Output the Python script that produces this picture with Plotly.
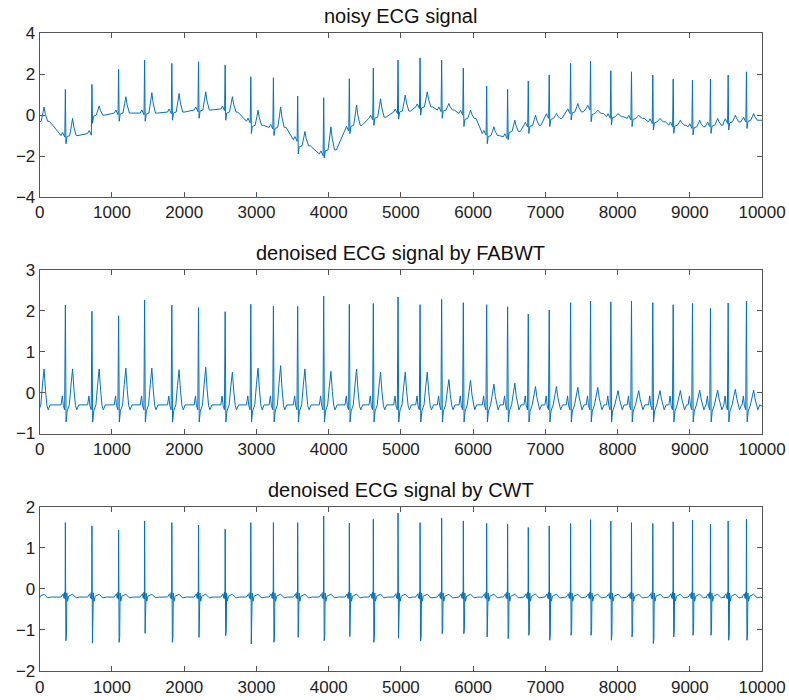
import plotly.graph_objects as go

# R-peak sample positions (first one is the off-screen beat whose T wave shows at the start)
beats = [-40, 355, 723, 1092, 1452, 1829, 2198, 2567, 2922, 3235, 3571, 3931, 4286, 4618, 4960,
         5265, 5564, 5864, 6187, 6477, 6763, 7053, 7349, 7625, 7906, 8192, 8487, 8769, 9036,
         9285, 9530, 9783]

# noisy ECG: R peak, baseline before / after the beat, T-wave peak (absolute values)
noisy_r = [1.0, 1.26, 1.5, 2.24, 2.69, 2.53, 2.61, 2.45, 1.88, 1.83, 0.93, 0.85, 1.78, 2.3, 2.69,
           2.8, 2.69, 2.3, 1.42, 1.26, 1.67, 1.96, 2.53, 2.64, 2.17, 2.12, 1.96, 1.76, 1.71,
           1.76, 1.96, 2.12]
noisy_pre = [-0.3, -1.0, -0.9, 0.1, 0.1, 0.15, 0.25, 0.3, -0.3, -0.6, -1.2, -1.9, -0.7, -0.15, 0.15,
             0.4, 0.25, 0.08, -0.9, -1.06, -0.5, -0.08, 0.16, 0.33, -0.08, -0.16, -0.33, -0.49,
             -0.57, -0.49, -0.33, -0.25]
noisy_post = [-0.3, -1.0, 0.0, 0.1, 0.1, 0.15, 0.25, 0.15, -0.5, -0.6, -1.5, -1.7, -0.5, -0.1, 0.2,
              0.4, 0.25, -0.16, -1.0, -0.8, -0.5, -0.16, 0.16, 0.08, -0.08, -0.16, -0.33, -0.49,
              -0.57, -0.49, -0.33, -0.25]
noisy_t = [0.4, -0.16, 0.45, 0.9, 1.1, 1.06, 1.14, 0.9, 0.24, 0.4, -0.8, -0.57, 0.49, 0.8, 0.98,
           1.14, 0.57, 0.25, -0.57, -0.25, 0.0, 0.08, 0.57, 0.25, 0.08, 0.0, -0.16, -0.25, -0.25,
           -0.16, 0.0, 0.08]
noisy_end = -0.25

# FABWT-denoised: R peak and T peak
fabwt_r = [2.0, 2.14, 1.99, 1.88, 2.26, 2.14, 2.08, 1.98, 2.16, 2.11, 2.11, 2.36, 2.16, 2.18, 2.34,
           2.15, 2.28, 2.2, 2.15, 2.1, 1.92, 2.02, 2.2, 2.24, 2.22, 2.24, 2.2, 2.15, 2.18, 2.06,
           2.19, 2.24]
fabwt_t = [0.58, 0.58, 0.58, 0.6, 0.6, 0.56, 0.62, 0.5, 0.6, 0.66, 0.58, 0.52, 0.58, 0.5, 0.5,
           0.5, 0.32, 0.3, 0.21, 0.23, 0.15, 0.15, 0.13, 0.13, 0.05, 0.05, 0.05, 0.05, 0.06,
           0.06, 0.08, 0.06]
fabwt_base = -0.3
fabwt_end = -0.33

# CWT-denoised: R peak and S trough
cwt_r = [1.6, 1.61, 1.53, 1.43, 1.65, 1.61, 1.55, 1.45, 1.61, 1.61, 1.61, 1.77, 1.6, 1.69, 1.84,
         1.61, 1.72, 1.65, 1.59, 1.57, 1.49, 1.53, 1.59, 1.68, 1.65, 1.61, 1.59, 1.63, 1.67,
         1.57, 1.65, 1.69]
cwt_s = [-1.2, -1.26, -1.32, -1.3, -1.08, -1.3, -1.18, -1.14, -1.34, -1.3, -1.18, -1.26, -1.16,
         -1.3, -1.2, -1.27, -1.09, -1.09, -1.17, -1.21, -1.13, -1.25, -1.13, -1.13, -1.25, -1.17,
         -1.33, -1.17, -1.13, -1.13, -1.25, -1.25]
cwt_base = -0.2
cwt_end = -0.22

titles = ["noisy ECG signal", "denoised ECG signal by FABWT", "denoised ECG signal by CWT"]
x_ticks = [0, 1000, 2000, 3000, 4000, 5000, 6000, 7000, 8000, 9000, 10000]
x_ticklabels = ["0", "1000", "2000", "3000", "4000", "5000", "6000", "7000", "8000", "9000", "10000"]
x_max = 10000


def assemble(shapes, end_val):
    xs, ys = [], []
    for b, pts in zip(beats, shapes):
        for off, v in pts:
            xs.append(b + off)
            ys.append(v)
    xs.append(x_max)
    ys.append(end_val)
    return xs, ys


noisy_shapes = []
for r, a, p, t in zip(noisy_r, noisy_pre, noisy_post, noisy_t):
    d = t - p
    noisy_shapes.append([(-60, a), (-38, a + 0.15), (-22, a), (-8, a - 0.08), (0, r),
                         (8, p - 0.4), (22, p - 0.05), (60, p), (85, p + 0.6 * d), (100, t),
                         (118, p + 0.5 * d), (150, p), (175, p)])

fab_shapes = []
for r, t in zip(fabwt_r, fabwt_t):
    c = fabwt_base
    d = t - c
    fab_shapes.append([(-60, c), (-42, c + 0.22), (-28, c - 0.02), (-10, c - 0.12), (0, r),
                       (10, c - 0.42), (25, c - 0.15), (55, c), (78, c + 0.55 * d), (100, t),
                       (120, c + 0.4 * d), (140, c - 0.02), (158, c - 0.12), (185, c)])

cwt_shapes = []
for r, s in zip(cwt_r, cwt_s):
    c = cwt_base
    cwt_shapes.append([(-60, c), (-30, c + 0.08), (-18, c - 0.03), (-8, c + 0.12), (-3, c - 0.05),
                       (0, r), (7, s), (11, c - 0.45), (15, s + 0.12), (20, c + 0.1),
                       (30, c - 0.1), (45, c + 0.02), (100, c + 0.07), (150, c - 0.02), (200, c)])

series = [assemble(noisy_shapes, noisy_end), assemble(fab_shapes, fabwt_end),
          assemble(cwt_shapes, cwt_end)]
y_ranges = [[-4, 4], [-1, 3], [-2, 2]]
y_dticks = [2, 1, 1]

# figure size and layout (pixel positions chosen so the photographed page lines up)
W, H = 816, 722
x_px = (36, 785)
y_px = [(25, 193), (268, 436), (511, 680)]
x_dom = [x_px[0] / W, x_px[1] / W]

fig = go.Figure()
font_family = "Liberation Sans, Arial, Helvetica, sans-serif"
axis_col = "#555555"
for i, (xs, ys) in enumerate(series):
    n = "" if i == 0 else str(i + 1)
    fig.add_trace(go.Scatter(x=xs, y=ys, mode="lines", xaxis="x" + n, yaxis="y" + n,
                             line=dict(color="#0072BD", width=1), showlegend=False,
                             hoverinfo="skip"))
    top, bot = y_px[i]
    ydom = [1 - bot / H, 1 - top / H]
    common = dict(showline=True, linecolor=axis_col, linewidth=1, mirror="ticks",
                  ticks="inside", ticklen=5, tickcolor=axis_col, showgrid=False,
                  zeroline=False, tickfont=dict(family=font_family, size=17, color="#222222"))
    fig.update_layout(**{
        "xaxis" + n: dict(domain=x_dom, range=[0, x_max], tickvals=x_ticks,
                          ticktext=x_ticklabels, anchor="y" + n, **common),
        "yaxis" + n: dict(domain=ydom, range=y_ranges[i], dtick=y_dticks[i],
                          anchor="x" + n, **common),
    })
    fig.add_annotation(text=titles[i], xref="paper", yref="paper",
                       x=(x_dom[0] + x_dom[1]) / 2, y=ydom[1], yshift=4,
                       xanchor="center", yanchor="bottom", showarrow=False,
                       font=dict(family=font_family, size=20, color="#111111"))

fig.update_layout(width=W, height=H, margin=dict(l=0, r=0, t=0, b=0),
                  paper_bgcolor="white", plot_bgcolor="white", hovermode=False)
fig.write_html("out.html", config={"displayModeBar": False, "responsive": False},
               post_script="document.body.style.margin='0';"
                           "document.documentElement.style.overflow='hidden';")
